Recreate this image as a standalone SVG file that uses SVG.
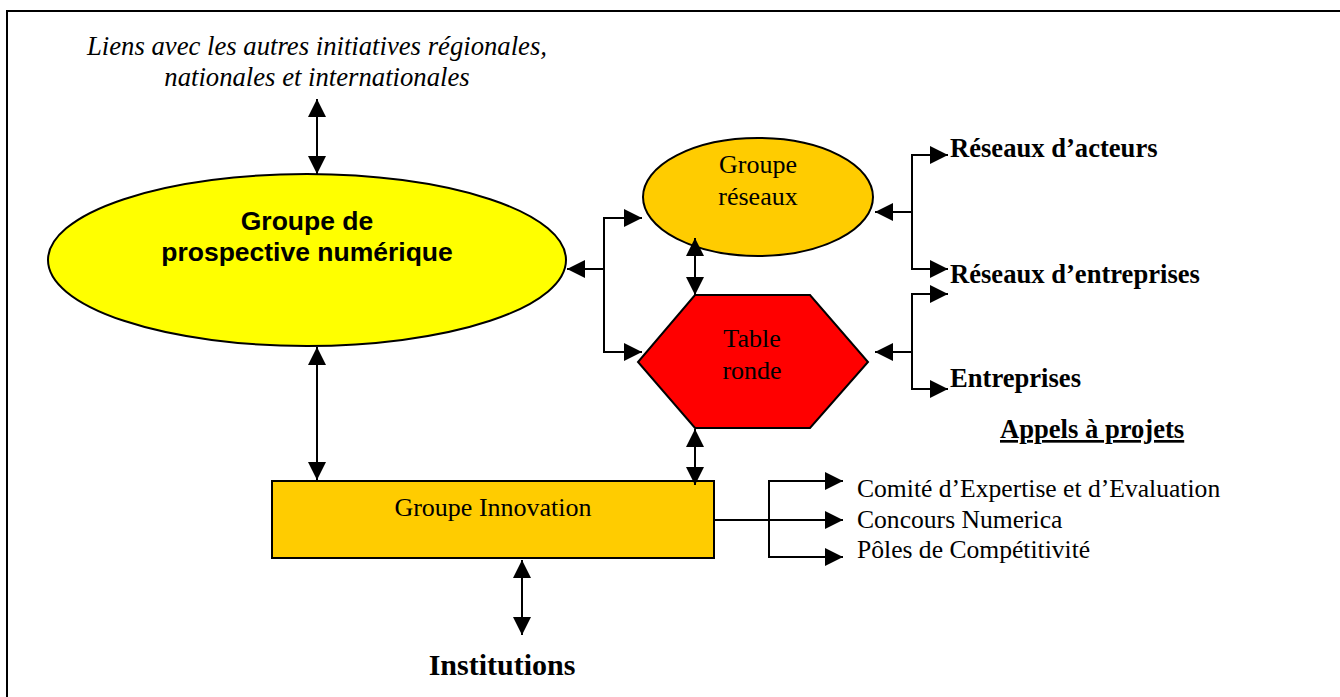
<svg xmlns="http://www.w3.org/2000/svg" width="1340" height="697" viewBox="0 0 1340 697">
  <defs>
    <marker id="ah" viewBox="0 0 18 18" refX="18" refY="9" markerWidth="18" markerHeight="18" markerUnits="userSpaceOnUse" orient="auto-start-reverse">
      <path d="M0,0 L18,9 L0,18 z" fill="#000"/>
    </marker>
    <style>
      .ser { font-family: "Liberation Serif", "Times New Roman", serif; font-size: 26px; fill: #000; }
      .it { font-style: italic; font-size: 26.7px; }
      .b { font-weight: bold; font-size: 26.6px; }
      .sans { font-family: "Liberation Sans", Arial, sans-serif; font-size: 26.5px; font-weight: bold; fill: #000; }
      .shape { stroke: #000; stroke-width: 2; }
      .c { fill: none; stroke: #000; stroke-width: 2; }
      .a2 { marker-start: url(#ah); marker-end: url(#ah); }
      .a1 { marker-end: url(#ah); }
    </style>
  </defs>
  <rect x="0" y="0" width="1340" height="697" fill="#fff"/>
  <rect x="7" y="11" width="1345" height="700" fill="none" stroke="#000" stroke-width="2"/>

  <g id="liens">
    <text class="ser it" x="317" y="55" text-anchor="middle">Liens avec les autres initiatives régionales,</text>
    <text class="ser it" x="317" y="86" text-anchor="middle">nationales et internationales</text>
  </g>

  <g id="prospective">
    <ellipse class="shape" cx="307" cy="260" rx="259" ry="86" fill="#FFFF00"/>
    <text class="sans" x="307" y="230" text-anchor="middle">Groupe de</text>
    <text class="sans" x="307" y="261" text-anchor="middle">prospective numérique</text>
  </g>

  <g id="reseaux">
    <ellipse class="shape" cx="758" cy="197" rx="115" ry="59" fill="#FFCC00"/>
    <text class="ser" x="758" y="173" text-anchor="middle">Groupe</text>
    <text class="ser" x="758" y="205" text-anchor="middle">réseaux</text>
  </g>

  <g id="table">
    <polygon class="shape" points="695,295 810,295 868,362 810,428 695,428 638,362" fill="#FF0000"/>
    <text class="ser" x="752" y="347" text-anchor="middle">Table</text>
    <text class="ser" x="752" y="379" text-anchor="middle">ronde</text>
  </g>

  <g id="innovation">
    <rect class="shape" x="272" y="481" width="442" height="77" fill="#FFCC00"/>
    <text class="ser" x="493" y="516" text-anchor="middle">Groupe Innovation</text>
  </g>

  <g id="institutions">
    <text class="ser b" x="502" y="675" text-anchor="middle" style="font-size:30px">Institutions</text>
  </g>

  <g id="acteurs"><text class="ser b" x="950" y="157">Réseaux d’acteurs</text></g>
  <g id="res-entreprises"><text class="ser b" x="950" y="283">Réseaux d’entreprises</text></g>
  <g id="entreprises"><text class="ser b" x="950" y="387">Entreprises</text></g>
  <g id="appels"><text class="ser b" x="1000" y="438" text-decoration="underline">Appels à projets</text></g>
  <g id="comite"><text class="ser" x="857" y="497" style="font-size:25.6px">Comité d’Expertise et d’Evaluation</text></g>
  <g id="concours"><text class="ser" x="857" y="528" style="font-size:25.6px">Concours Numerica</text></g>
  <g id="poles"><text class="ser" x="857" y="558" style="font-size:25.6px">Pôles de Compétitivité</text></g>

  <g id="connectors">
    <line class="c a2" x1="317" y1="99" x2="317" y2="174"/>
    <line class="c a2" x1="317" y1="347" x2="317" y2="480"/>
    <line class="c a2" x1="522" y1="560" x2="522" y2="635"/>

    <line class="c a1" x1="604" y1="269" x2="567" y2="269"/>
    <line class="c" x1="604" y1="218" x2="604" y2="352"/>
    <line class="c a1" x1="603" y1="218" x2="642" y2="218"/>
    <line class="c a1" x1="603" y1="352" x2="642" y2="352"/>

    <line class="c a2" x1="695" y1="238" x2="695" y2="295"/>
    <line class="c a2" x1="695" y1="429" x2="695" y2="485"/>

    <line class="c a1" x1="912" y1="212" x2="875" y2="212"/>
    <line class="c" x1="912" y1="155" x2="912" y2="269"/>
    <line class="c a1" x1="911" y1="155" x2="948" y2="155"/>
    <line class="c a1" x1="911" y1="269" x2="948" y2="269"/>

    <line class="c a1" x1="912" y1="352" x2="875" y2="352"/>
    <line class="c" x1="912" y1="294" x2="912" y2="389"/>
    <line class="c a1" x1="911" y1="294" x2="948" y2="294"/>
    <line class="c a1" x1="911" y1="389" x2="948" y2="389"/>

    <line class="c a1" x1="714" y1="520" x2="843" y2="520"/>
    <line class="c" x1="769" y1="481" x2="769" y2="557"/>
    <line class="c a1" x1="768" y1="481" x2="843" y2="481"/>
    <line class="c a1" x1="768" y1="557" x2="843" y2="557"/>
  </g>
</svg>
